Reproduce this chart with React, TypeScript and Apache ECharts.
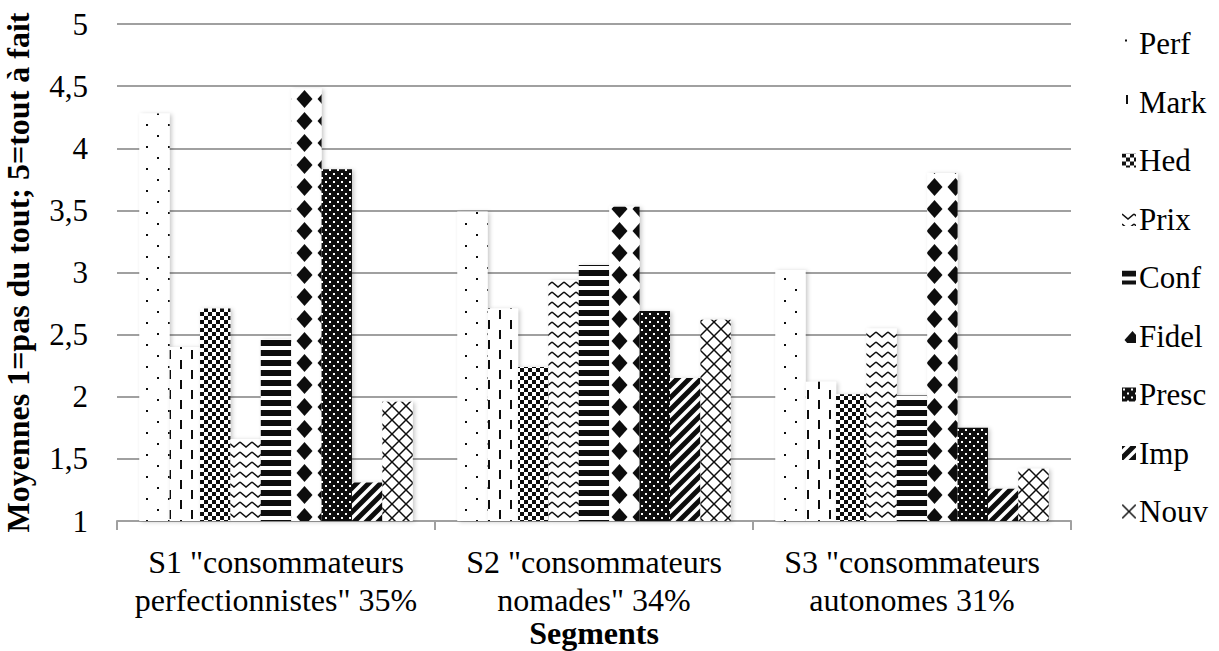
import React, { useEffect, useRef } from "react";
import * as echarts from "echarts";

const categories = [
  'S1 "consommateurs\nperfectionnistes" 35%',
  'S2 "consommateurs\nnomades" 34%',
  'S3 "consommateurs\nautonomes 31%',
];
const seriesNames = ["Perf", "Mark", "Hed", "Prix", "Conf", "Fidel", "Presc", "Imp", "Nouv"];
const perf = [4.28, 3.49, 3.02];
const mark = [2.4, 2.71, 2.12];
const hed = [2.71, 2.24, 2.02];
const prix = [1.66, 2.94, 2.55];
const conf = [2.46, 3.06, 2.01];
const fidel = [4.48, 3.53, 3.8];
const presc = [3.83, 2.69, 1.75];
const imp = [1.31, 2.15, 1.26];
const nouv = [1.96, 2.62, 1.42];
const values = [perf, mark, hed, prix, conf, fidel, presc, imp, nouv];
const yTicks = { min: 1, max: 5, interval: 0.5 };

const INK = "#111";
const FONT = "'Liberation Serif', 'Times New Roman', 'DejaVu Serif', serif";

function tile(w: number, h: number, draw: (ctx: CanvasRenderingContext2D) => void, bg = "#fff") {
  const c = document.createElement("canvas");
  c.width = w;
  c.height = h;
  const ctx = c.getContext("2d") as CanvasRenderingContext2D;
  ctx.fillStyle = bg;
  ctx.fillRect(0, 0, w, h);
  ctx.fillStyle = INK;
  ctx.strokeStyle = INK;
  draw(ctx);
  return { image: c, repeat: "repeat", imageWidth: w, imageHeight: h } as any;
}

function makePatterns() {
  const p: any[] = [];
  p.push(tile(22, 22, (x) => { x.fillRect(3, 3, 2, 2); x.fillRect(14, 14, 2, 2); }));
  p.push(tile(22, 20, (x) => { x.fillRect(4, 0, 2, 9); x.fillRect(15, 10, 2, 9); }));
  p.push(tile(8, 8, (x) => { x.fillRect(0, 0, 4, 4); x.fillRect(4, 4, 4, 4); }));
  p.push(tile(12, 10, (x) => {
    x.lineWidth = 1.6;
    x.beginPath(); x.moveTo(0, 2); x.lineTo(6, 7); x.lineTo(12, 2); x.stroke();
  }));
  p.push(tile(10, 10, (x) => { x.fillRect(0, 0, 10, 6); }));
  p.push(tile(21, 22, (x) => {
    x.beginPath(); x.moveTo(10.5, 2); x.lineTo(18.5, 11); x.lineTo(10.5, 20); x.lineTo(2.5, 11); x.closePath(); x.fill();
  }));
  p.push(tile(8, 8, (x) => {
    x.fillStyle = "#fff"; x.fillRect(1, 1, 2, 2); x.fillRect(5, 5, 2, 2);
  }, INK));
  p.push(tile(12, 12, (x) => {
    x.lineWidth = 5;
    x.beginPath();
    x.moveTo(-6, 6); x.lineTo(6, -6);
    x.moveTo(0, 12); x.lineTo(12, 0);
    x.moveTo(6, 18); x.lineTo(18, 6);
    x.stroke();
  }));
  p.push(tile(14, 14, (x) => {
    x.lineWidth = 1.5;
    x.beginPath();
    x.moveTo(0, 0); x.lineTo(14, 14);
    x.moveTo(14, 0); x.lineTo(0, 14);
    x.stroke();
  }));
  return p;
}

export default function App() {
  const ref = useRef<HTMLDivElement>(null);
  useEffect(() => {
    document.body.style.margin = "0";
    if (!ref.current) return;
    const chart = echarts.init(ref.current, null, { renderer: "svg" });
    const patterns = makePatterns();
    const series = seriesNames.map((name, i) => ({
      name,
      type: "bar",
      data: values[i],
      barGap: "0%",
      barCategoryGap: "14%",
      itemStyle: {
        color: patterns[i],
        shadowColor: "rgba(0,0,0,0.22)",
        shadowBlur: 4,
        shadowOffsetX: 2,
        shadowOffsetY: 1,
      },
    }));
    chart.setOption({
      animation: false,
      backgroundColor: "#fff",
      textStyle: { fontFamily: FONT },
      grid: { left: 117, right: 148, top: 24, bottom: 130, containLabel: false, outerBoundsMode: "none" },
      legend: {
        orient: "vertical",
        left: 1117,
        top: 23,
        itemWidth: 14,
        itemHeight: 14,
        itemGap: 27.5,
        icon: "rect",
        data: seriesNames,
        itemStyle: { shadowBlur: 0, shadowOffsetX: 0, shadowOffsetY: 0, shadowColor: "transparent" },
        textStyle: { fontFamily: FONT, fontSize: 31, color: "#000", lineHeight: 30, padding: [0, 0, 0, -2] },
      },
      xAxis: {
        type: "category",
        data: categories,
        name: "Segments",
        nameLocation: "middle",
        nameGap: 97,
        nameMoveOverlap: false,
        nameTextStyle: { fontFamily: FONT, fontSize: 32, fontWeight: "bold", color: "#000", lineHeight: 30 },
        axisLine: { lineStyle: { color: "#a0a0a0", width: 2 } },
        axisTick: { show: true, length: 9, lineStyle: { color: "#a0a0a0", width: 2 } },
        axisLabel: { fontFamily: FONT, fontSize: 32, color: "#000", lineHeight: 38, margin: 22, interval: 0 },
      },
      yAxis: {
        type: "value",
        min: yTicks.min,
        max: yTicks.max,
        interval: yTicks.interval,
        name: "Moyennes 1=pas du tout; 5=tout à fait",
        nameLocation: "middle",
        nameGap: 83,
        nameMoveOverlap: false,
        nameTextStyle: { fontFamily: FONT, fontSize: 32, fontWeight: "bold", color: "#000" },
        axisLine: { show: false },
        axisTick: { show: false },
        splitLine: { lineStyle: { color: "#a0a0a0", width: 2 } },
        axisLabel: {
          fontFamily: FONT,
          fontSize: 31,
          color: "#000",
          margin: 29,
          formatter: (v: number) => String(v).replace(".", ","),
        },
      },
      series,
    });
    return () => chart.dispose();
  }, []);
  return <div ref={ref} style={{ width: 1219, height: 651 }} />;
}
